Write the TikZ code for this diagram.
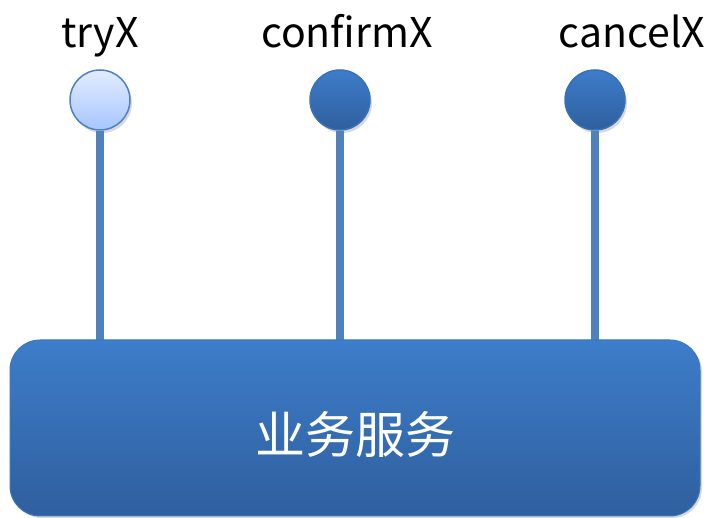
\documentclass[tikz,border=0pt]{standalone}
\usepackage{fontspec}
\setmainfont{Noto Sans CJK SC}
\usetikzlibrary{shadows}
\definecolor{linec}{HTML}{4F81BD}
\definecolor{boxtop}{HTML}{3D7DCA}
\definecolor{boxbot}{HTML}{2F5F9E}
\definecolor{ltop}{HTML}{E3ECFF}
\definecolor{lbot}{HTML}{A6C6FF}
\tikzset{
  stem/.style={draw=linec, line width=8pt},
  dot/.style={circle, minimum size=60pt, inner sep=0pt, draw=linec, line width=1.5pt,
    drop shadow={shadow xshift=2pt, shadow yshift=-3pt, fill=black, opacity=0.15}},
  darkdot/.style={dot, top color=boxtop, bottom color=boxbot, draw=boxtop!90!black},
  lightdot/.style={dot, top color=ltop, bottom color=lbot},
  lbl/.style={font=\fontsize{41pt}{43pt}\selectfont, text=black, inner sep=0pt, anchor=base},
  service/.style={rounded corners=30pt, top color=boxtop, bottom color=boxbot, draw=boxtop!95!black, line width=1pt,
    drop shadow={shadow xshift=2pt, shadow yshift=-2pt, fill=black, opacity=0.15}}
}
\begin{document}
\begin{tikzpicture}[x=1pt,y=-1pt]
\useasboundingbox (0,0) rectangle (713,518);
\coordinate (b1) at (100,345);
\coordinate (b2) at (340,345);
\coordinate (b3) at (595,345);
\node[lightdot] (c1) at (100,100) {};
\node[darkdot] (c2) at (340,100) {};
\node[darkdot] (c3) at (595,100) {};
\draw[stem] (c1.south) -- (b1);
\draw[stem] (c2.south) -- (b2);
\draw[stem] (c3.south) -- (b3);
\node[lbl] (t1) at (100,48) {tryX};
\node[lbl] (t2) at (347,48) {confirmX};
\node[lbl] (t3) at (632,48) {cancelX};
\path[service] (10,340) rectangle (700,516);
\node[font=\fontsize{50pt}{52pt}\selectfont, text=white, inner sep=0pt] (s) at (355,435) {业务服务};
\end{tikzpicture}
\end{document}
